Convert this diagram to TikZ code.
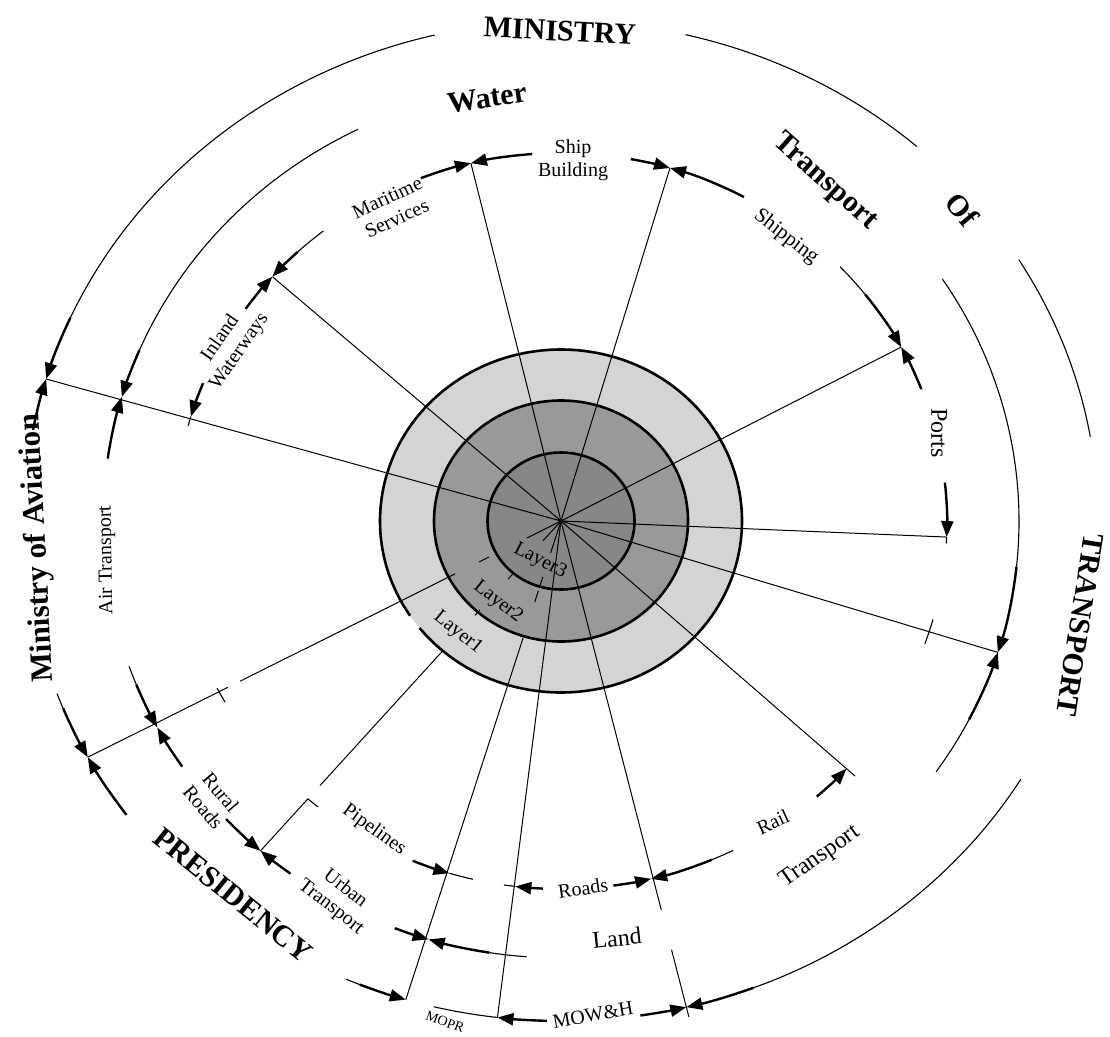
\documentclass[tikz,border=0pt]{standalone}
\usepackage{fontspec}
\setmainfont{Liberation Serif}
\usetikzlibrary{arrows.meta,calc}
\newcommand\ringarc[5][]{\draw[arcline,#1] ($(O)+(#4:#2 and #3)$) arc[start angle=#4,end angle=#5,x radius=#2,y radius=#3];}
\newcommand\ringtip[4]{\draw[arcthick] ($(O)+(#3:#1 and #2)$) arc[start angle=#3,end angle=#4,x radius=#1,y radius=#2];}
\newcommand\ringarrow[5]{%
  \draw[arcline] ($(O)+(#3:#1 and #2)$) arc[start angle=#3,end angle=#4,x radius=#1,y radius=#2];
  \draw[arcthick] ($(O)+(#4:#1 and #2)$) arc[start angle=#4,end angle=#5,x radius=#1,y radius=#2];}
\begin{document}
\begin{tikzpicture}[x=1pt,y=1pt,
  arcline/.style={line width=1.1pt},
  arcthick/.style={line width=2.4pt,-{Triangle[length=16pt,width=12pt]}},
  spoke/.style={line width=1pt},
  ringline/.style={line width=2.6pt},
  bigb/.style={font=\fontsize{30}{32}\selectfont\bfseries,inner sep=0pt},
  lab/.style={font=\fontsize{20}{23}\selectfont,align=center,inner sep=0pt},
  lablarge/.style={font=\fontsize{24}{27}\selectfont,inner sep=0pt},
  laysty/.style={font=\fontsize{20}{22}\selectfont,inner sep=0pt},
]
\useasboundingbox (0,0) rectangle (1110,-1036);
\coordinate (O) at (561,-521);
% ---- shaded layers
\fill[black!17] (O) ellipse[x radius=181,y radius=171.5];
\fill[black!40] (O) ellipse[x radius=127,y radius=120.5];
\fill[black!47] (O) ellipse[x radius=73.5,y radius=68.5];
\draw[ringline] ($(O)+(-141.4:181 and 171.5)$) arc[start angle=-141.4,end angle=213.5,x radius=181,y radius=171.5];
\draw[ringline] (O) ellipse[x radius=127,y radius=120.5];
\draw[ringline] (O) ellipse[x radius=73.5,y radius=68.5];
% ---- spoke end points
\coordinate (pAv) at ($(O)+(163.5:537 and 500)$);
\coordinate (pIM) at ($(O)+(138.4:386 and 368)$);
\coordinate (pMS) at ($(O)+(103.5:386 and 368)$);
\coordinate (pSS) at ($(O)+(73.6:386 and 368)$);
\coordinate (pSP) at ($(O)+(28.2:386 and 368)$);
\coordinate (pPo) at ($(O)+(-2.5:386 and 368)$);
\coordinate (pRt) at ($(O)+(-17.5:458 and 437)$);
\coordinate (pRa) at ($(O)+(-42.3:386 and 368)$);
\coordinate (pA) at ($(O)+(-76.5:537 and 500)$);
\coordinate (pB) at ($(O)+(-96.8:537 and 500)$);
\coordinate (pC) at ($(O)+(-106.8:537 and 500)$);
\coordinate (pD) at ($(O)+(-131:458 and 437)$);
\coordinate (pE) at ($(O)+(-151.8:537 and 500)$);
% ---- spokes
\draw[spoke] (O) -- (pAv) (O) -- (pIM) (O) -- (pMS) (O) -- (pSS) (O) -- (pSP)
  (O) -- (pPo) (O) -- (pRt) (O) -- (pB);
\draw[spoke] (O) -- ($(O)!1.03!(pRa)$);
\draw[spoke] (O) -- ($(O)!0.80!(pA)$) ($(O)!0.882!(pA)$) -- ($(O)!1.02!(pA)$);
\draw[spoke] (O) -- ($(O)!0.067!(pC)$) ($(O)!0.117!(pC)$) -- ($(O)!0.134!(pC)$)
  ($(O)!0.146!(pC)$) -- ($(O)!0.169!(pC)$) ($(O)!0.244!(pC)$) -- (pC);
\draw[spoke] (O) -- ($(O)!0.06!(pD)$) ($(O)!0.156!(pD)$) -- ($(O)!0.176!(pD)$)
  ($(O)!0.27!(pD)$) -- ($(O)!0.286!(pD)$) ($(O)!0.393!(pD)$) -- ($(O)!0.802!(pD)$)
  ($(O)!0.842!(pD)$) -- (pD);
\draw[spoke] (O) -- ($(O)!0.072!(pE)$) ($(O)!0.152!(pE)$) -- ($(O)!0.173!(pE)$)
  ($(O)!0.224!(pE)$) -- ($(O)!0.678!(pE)$) ($(O)!0.704!(pE)$) -- (pE);
% ---- ring 1 (ministries)
\ringarc{537}{500}{76.6}{48.5}
\ringarc{537}{500}{31.5}{9.7}
\ringarrow{537}{500}{103.6}{156}{163.5}
\ringtip{537}{500}{169.5}{163.5}
\ringarrow{537}{500}{200.2}{202}{208.2}
\ringtip{537}{500}{216}{208.2}
\ringarrow{537}{500}{246.4}{248}{253.2}
\ringarc{537}{500}{256.3}{263.2}
\ringtip{537}{500}{268.5}{263.2}
\ringtip{537}{500}{278.5}{283.5}
\ringarrow{537}{500}{328.9}{291}{283.5}
% ---- ring 2 (modes)
\ringarrow{458}{437}{116.3}{157}{163.5}
\ringtip{458}{437}{171.8}{163.5}
\ringarrow{458}{437}{199.4}{202}{208.2}
\ringtip{458}{437}{214.2}{208.2}
\ringtip{458}{437}{223}{229}
\ringtip{458}{437}{233.8}{229}
\ringtip{458}{437}{248.7}{253.2}
\ringarrow{458}{437}{265.7}{261}{253.2}
\ringarrow{458}{437}{-35}{-27}{-17.5}
\ringarrow{458}{437}{33.6}{-6}{-17.5}
% ---- ring 3 (sub-sectors)
\ringtip{386}{368}{144.8}{138.4}
\ringtip{386}{368}{158}{163.5}
\ringarc{386}{368}{163.5}{165}
\ringarrow{386}{368}{128}{133}{138.4}
\ringtip{386}{368}{111.3}{103.5}
\ringtip{386}{368}{94.3}{103.5}
\ringtip{386}{368}{79.6}{73.6}
\ringtip{386}{368}{61.7}{73.6}
\ringarrow{386}{368}{43.7}{38}{28.2}
\ringtip{386}{368}{21}{28.2}
\ringtip{386}{368}{6}{-2.5}
\ringarc{386}{368}{-2.5}{-3.5}
\ringtip{386}{368}{-48.5}{-42.3}
\ringarrow{386}{368}{-63.5}{-67}{-76.5}
\ringtip{386}{368}{-82.2}{-76.5}
\ringtip{386}{368}{-92.7}{-96.8}
\ringarc{386}{368}{-96.8}{-98.5}
\ringtip{386}{368}{-112.6}{-106.8}
\ringarc{386}{368}{-106.8}{-103.2}
\ringarc{386}{368}{-131}{-129}
\ringarc{386}{368}{-153}{-150.5}
\ringarc{386}{368}{-15.5}{-19.5}
% ---- texts
\node[bigb, rotate=-3] (tMin) at (560,-31) {MINISTRY};
\node[bigb, rotate=-50] (tOf) at (962,-210) {Of};
\node[bigb, rotate=-99] (tTr) at (1080,-625) {TRANSPORT};
\node[bigb, rotate=93, font=\fontsize{31}{33}\selectfont\bfseries] (tAv) at (38,-548) {Ministry of Aviation};
\node[bigb, rotate=-39] (tPr) at (233,-895) {PRESIDENCY};
\node[bigb, rotate=9] (tWa) at (487,-98) {Water};
\node[bigb, rotate=-42] (tWT) at (825,-182) {Transport};
\node[lab] (tSB) at (573,-160) {Ship\\Building};
\node[lab, rotate=25] (tMS) at (392,-208) {Maritime\\Services};
\node[lab, rotate=55] (tIW) at (230,-345) {Inland\\Waterways};
\node[lab, rotate=-38, font=\fontsize{21}{23}\selectfont] (tSh) at (786,-237) {Shipping};
\node[lab, rotate=-90, font=\fontsize{24}{26}\selectfont] (tPo) at (939,-433) {Ports};
\node[lab, rotate=91] (tAT) at (107,-560) {Air Transport};
\node[lab, rotate=-50] (tRR) at (212,-800) {Rural\\Roads};
\node[lab, rotate=-38] (tUT) at (338,-898) {Urban\\Transport};
\node[lab, rotate=-36] (tPi) at (374,-830) {Pipelines};
\node[lab, rotate=8] (tRo) at (583,-888) {Roads};
\node[lab, rotate=25] (tRa) at (773,-822) {Rail};
\node[lablarge, rotate=35] (tLT) at (820,-857) {Transport};
\node[lablarge, rotate=6] (tLa) at (617,-938) {Land};
\node[lab, rotate=10] (tMW) at (593,-1015) {MOW\&H};
\node[font=\fontsize{14}{16}\selectfont, rotate=-20, inner sep=0pt] (tMO) at (445,-1022) {MOPR};
\node[laysty, rotate=-27] (tL3) at (540,-561) {Layer3};
\node[laysty, rotate=-38] (tL2) at (498,-602) {Layer2};
\node[laysty, rotate=-39] (tL1) at (458,-633) {Layer1};
\end{tikzpicture}
\end{document}
